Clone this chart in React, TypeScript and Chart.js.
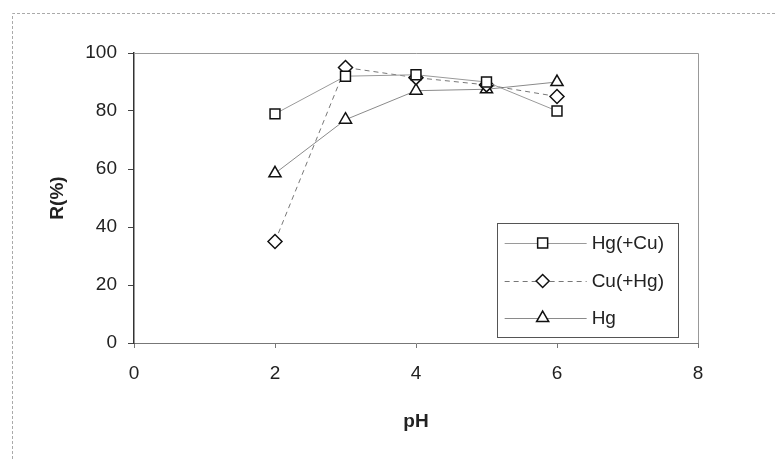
import React, { useEffect, useRef } from "react";
import { Chart, registerables } from "chart.js";

Chart.register(...registerables);

const phValues = [2, 3, 4, 5, 6];
const hgCu = [79, 92, 92.5, 90, 80];
const cuHg = [35, 95, 91.5, 89, 85];
const hgOnly = [58.5, 77, 87, 87.5, 90];
const seriesNames = ["Hg(+Cu)", "Cu(+Hg)", "Hg"];
const xTicks = [0, 2, 4, 6, 8];
const yTicks = [0, 20, 40, 60, 80, 100];

const FONT = "'Liberation Sans', Arial, sans-serif";

const toPoints = (ys: number[]) => phValues.map((x, i) => ({ x, y: ys[i] }));

function drawMarker(ctx: CanvasRenderingContext2D, style: string, x: number, y: number) {
  ctx.save();
  ctx.fillStyle = "#fff";
  ctx.strokeStyle = "#111";
  ctx.lineWidth = 1.5;
  ctx.setLineDash([]);
  ctx.beginPath();
  if (style === "rect") {
    ctx.rect(x - 5, y - 5, 10, 10);
  } else if (style === "rectRot") {
    const d = 6.5;
    ctx.moveTo(x, y - d);
    ctx.lineTo(x + d, y);
    ctx.lineTo(x, y + d);
    ctx.lineTo(x - d, y);
    ctx.closePath();
  } else {
    const r = 7;
    ctx.moveTo(x, y - r);
    ctx.lineTo(x + r * 0.866, y + r * 0.5);
    ctx.lineTo(x - r * 0.866, y + r * 0.5);
    ctx.closePath();
  }
  ctx.fill();
  ctx.stroke();
  ctx.restore();
}

const framePlugin = {
  id: "frame",
  beforeDraw(chart: any) {
    const ctx = chart.ctx as CanvasRenderingContext2D;
    ctx.save();
    ctx.strokeStyle = "#aaa";
    ctx.lineWidth = 1;
    ctx.setLineDash([3, 2]);
    ctx.beginPath();
    ctx.moveTo(12.5, 459);
    ctx.lineTo(12.5, 13.5);
    ctx.lineTo(775, 13.5);
    ctx.stroke();
    ctx.restore();
  },
  afterDatasetsDraw(chart: any) {
    const ctx = chart.ctx as CanvasRenderingContext2D;
    const a = chart.chartArea;
    ctx.save();
    ctx.strokeStyle = "#999";
    ctx.lineWidth = 1;
    ctx.beginPath();
    ctx.moveTo(a.left, a.top + 0.5);
    ctx.lineTo(a.right + 0.5, a.top + 0.5);
    ctx.lineTo(a.right + 0.5, a.bottom);
    ctx.stroke();
    ctx.restore();
  },
  afterDraw(chart: any) {
    const ctx = chart.ctx as CanvasRenderingContext2D;
    const a = chart.chartArea;
    const bx = a.left + (a.right - a.left) * 0.643;
    const by = a.top + 170;
    const bw = 181;
    const bh = 114;
    ctx.save();
    ctx.fillStyle = "#fff";
    ctx.fillRect(bx, by, bw, bh);
    ctx.strokeStyle = "#555";
    ctx.lineWidth = 1;
    ctx.setLineDash([]);
    ctx.strokeRect(Math.round(bx) + 0.5, Math.round(by) + 0.5, bw, bh);
    const rowsY = [20, 58, 95];
    chart.data.datasets.forEach((ds: any, i: number) => {
      const y = by + rowsY[i];
      ctx.save();
      ctx.strokeStyle = ds.borderColor;
      ctx.lineWidth = ds.borderWidth;
      ctx.setLineDash(ds.borderDash || []);
      ctx.beginPath();
      ctx.moveTo(bx + 8, y + 0.5);
      ctx.lineTo(bx + 90, y + 0.5);
      ctx.stroke();
      ctx.restore();
      drawMarker(ctx, ds.pointStyle, bx + 46, y);
      ctx.fillStyle = "#222";
      ctx.font = `19px ${FONT}`;
      ctx.textBaseline = "middle";
      ctx.textAlign = "left";
      ctx.fillText(seriesNames[i], bx + 95, y + 1);
    });
    ctx.restore();
  },
};

export default function App() {
  const ref = useRef<HTMLCanvasElement | null>(null);
  useEffect(() => {
    document.body.style.margin = "0";
    const canvas = ref.current;
    if (!canvas) return;
    const markerCommon = {
      pointBackgroundColor: "#fff",
      pointBorderColor: "#111",
      pointBorderWidth: 1.5,
      borderWidth: 1,
      tension: 0,
      fill: false,
    };
    const chart = new Chart(canvas, {
      type: "line",
      data: {
        datasets: [
          {
            label: seriesNames[0],
            data: toPoints(hgCu),
            borderColor: "#9a9a9a",
            pointStyle: "rect",
            pointRadius: 7,
            ...markerCommon,
          },
          {
            label: seriesNames[1],
            data: toPoints(cuHg),
            borderColor: "#777",
            borderDash: [5, 4],
            pointStyle: "rectRot",
            pointRadius: 7,
            ...markerCommon,
          },
          {
            label: seriesNames[2],
            data: toPoints(hgOnly),
            borderColor: "#8a8a8a",
            pointStyle: "triangle",
            pointRadius: 7,
            ...markerCommon,
          },
        ] as any,
      },
      options: {
        animation: false,
        responsive: false,
        devicePixelRatio: 1,
        layout: { padding: { top: 53, right: 77, left: 0, bottom: 0 } },
        plugins: {
          legend: { display: false },
          tooltip: { enabled: false },
        },
        scales: {
          x: {
            type: "linear",
            min: 0,
            max: 8,
            afterBuildTicks: (s: any) => {
              s.ticks = xTicks.map((v) => ({ value: v }));
            },
            afterFit: (s: any) => {
              s.height = 116;
            },
            ticks: {
              color: "#222",
              font: { family: FONT, size: 19 },
              padding: 14,
              maxRotation: 0,
            },
            grid: { drawOnChartArea: false, drawTicks: true, tickLength: 5, color: "#777" },
            border: { display: true, color: "#777", width: 1 },
            title: {
              display: true,
              text: "pH",
              color: "#222",
              font: { family: FONT, size: 19, weight: "bold" },
              padding: { top: 0, bottom: 26 },
            },
          },
          y: {
            type: "linear",
            min: 0,
            max: 100,
            afterBuildTicks: (s: any) => {
              s.ticks = yTicks.map((v) => ({ value: v }));
            },
            afterFit: (s: any) => {
              s.width = 134;
            },
            ticks: {
              color: "#222",
              font: { family: FONT, size: 19 },
              padding: 11,
            },
            grid: { drawOnChartArea: false, drawTicks: true, tickLength: 6, color: "#444" },
            border: { display: true, color: "#333", width: 1.5 },
            title: {
              display: true,
              text: "R(%)",
              color: "#222",
              font: { family: FONT, size: 19, weight: "bold" },
              padding: { top: 46, bottom: 0 },
            },
          },
        },
      } as any,
      plugins: [framePlugin],
    });
    return () => chart.destroy();
  }, []);
  return (
    <div style={{ width: 775, height: 459, background: "#fff" }}>
      <canvas ref={ref} width={775} height={459} style={{ display: "block" }} />
    </div>
  );
}
